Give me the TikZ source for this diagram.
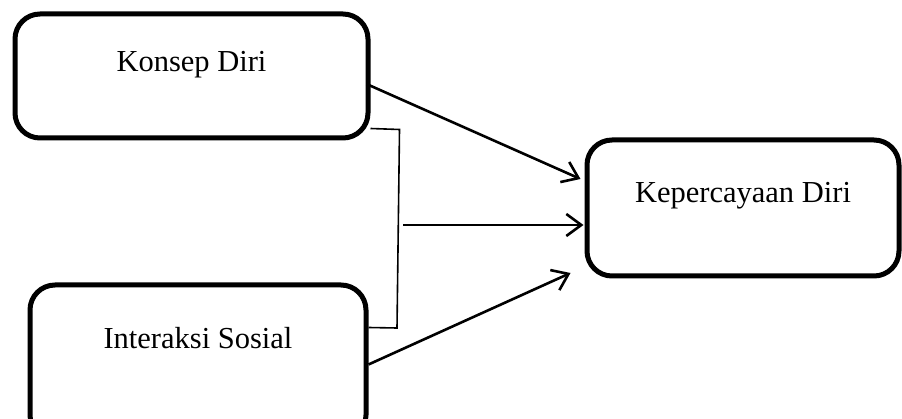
\documentclass[tikz,border=0pt]{standalone}
\usepackage{fontspec}
\setmainfont{Liberation Serif}
\usetikzlibrary{arrows.meta}
\begin{document}
\begin{tikzpicture}[x=1pt,y=-1pt,
  box/.style={draw=black,line width=5pt,rounded corners=25pt,inner sep=0pt,
    font=\fontsize{30.5}{36}\selectfont,text height=20pt},
  conn/.style={line width=2.6pt,-{Straight Barb[length=15pt,width=22pt,line width=2.6pt]}},
  brace/.style={line width=1.6pt}]
\useasboundingbox (0,0) rectangle (902,419);
\clip (0,0) rectangle (902,419);
\fill[white] (0,0) rectangle (902,419);
\node[box,minimum width=353pt,minimum height=124pt,text depth=28pt] (k) at (191.5,76) {Konsep Diri};
\node[box,minimum width=336pt,minimum height=155pt,text depth=47pt] (s) at (198,362.5) {Interaksi Sosial};
\node[box,minimum width=312pt,minimum height=136pt,text depth=30pt] (d) at (743,208) {Kepercayaan Diri};
\coordinate (bt) at ([yshift=12pt]k.south east);
\coordinate (bb) at ([yshift=-45pt]s.north east);
\coordinate (bm) at (403,225);
\draw[brace] (bt) -- ++(29,1) -- (397,328) -- (bb);
\draw[conn] ([xshift=-4pt,yshift=-8pt]k.east) -- ([xshift=-4pt,yshift=29pt]d.west);
\draw[conn] (bm) -- ([xshift=-1pt,yshift=-17pt]d.west);
\draw[conn] ([yshift=-2pt]s.east) -- ([xshift=-14pt,yshift=-65pt]d.west);
\end{tikzpicture}
\end{document}
